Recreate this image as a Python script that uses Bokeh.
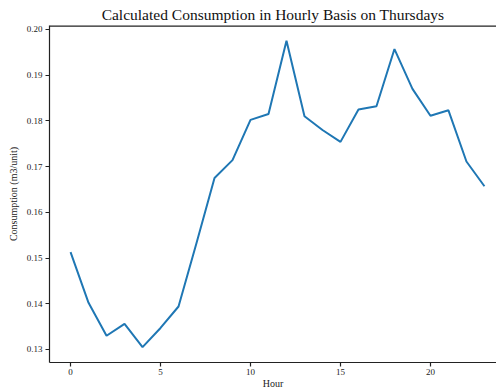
from bokeh.plotting import figure
from bokeh.models import Range1d, Span, FixedTicker, NumeralTickFormatter
from bokeh.embed import file_html
from bokeh.resources import INLINE

# Average calculated consumption per hour on Thursdays
hours = list(range(24))
consumption = [0.1513, 0.1402, 0.1330, 0.1356, 0.1305, 0.1347, 0.1394, 0.1533,
               0.1675, 0.1714, 0.1802, 0.1815, 0.1975, 0.1810, 0.1780, 0.1754,
               0.1825, 0.1832, 0.1957, 0.1870, 0.1811, 0.1823, 0.1711, 0.1657]
x_ticks = [0, 5, 10, 15, 20]
y_ticks = [0.13, 0.14, 0.15, 0.16, 0.17, 0.18, 0.19, 0.20]

FONT = "Liberation Serif"
INK = "#222222"

p = figure(width=496, height=391, output_backend="svg", toolbar_location=None,
           title="Calculated Consumption in Hourly Basis on Thursdays",
           x_range=Range1d(-1.17, 23.67), y_range=Range1d(0.12715, 0.20085),
           min_border_left=49, min_border_right=0, min_border_bottom=0,
           min_border_top=0)

p.title.text_font = FONT
p.title.text_font_size = "15.5px"
p.title.text_font_style = "normal"
p.title.text_color = "#111111"
p.title.align = "center"
p.title.standoff = 6

p.outline_line_color = None
p.grid.visible = False
p.background_fill_color = "white"
p.border_fill_color = "white"

p.line(hours, consumption, line_color="#1f77b4", line_width=2)

# top spine
p.add_layout(Span(location=0.20085, dimension="width", line_color=INK,
                  line_width=2.4))

for ax in (p.xaxis[0], p.yaxis[0]):
    ax.axis_line_color = INK
    ax.axis_line_width = 1.2
    ax.major_tick_line_color = INK
    ax.major_tick_line_width = 1.2
    ax.major_tick_out = 4
    ax.major_tick_in = 0
    ax.minor_tick_line_color = None
    ax.major_label_text_font = FONT
    ax.major_label_text_font_size = "9px"
    ax.major_label_text_color = INK
    ax.axis_label_text_font = FONT
    ax.axis_label_text_font_size = "10px"
    ax.axis_label_text_font_style = "normal"
    ax.axis_label_text_color = INK

p.xaxis.ticker = FixedTicker(ticks=x_ticks)
p.yaxis.ticker = FixedTicker(ticks=y_ticks)
p.yaxis.formatter = NumeralTickFormatter(format="0.00")
p.xaxis.axis_label = "Hour"
p.yaxis.axis_label = "Consumption (m3/unit)"
p.xaxis.major_label_standoff = 2
p.xaxis.axis_label_standoff = 0
p.yaxis.major_label_standoff = 3
p.yaxis.axis_label_standoff = 5

open("out.html", "w").write(file_html(p, INLINE))
